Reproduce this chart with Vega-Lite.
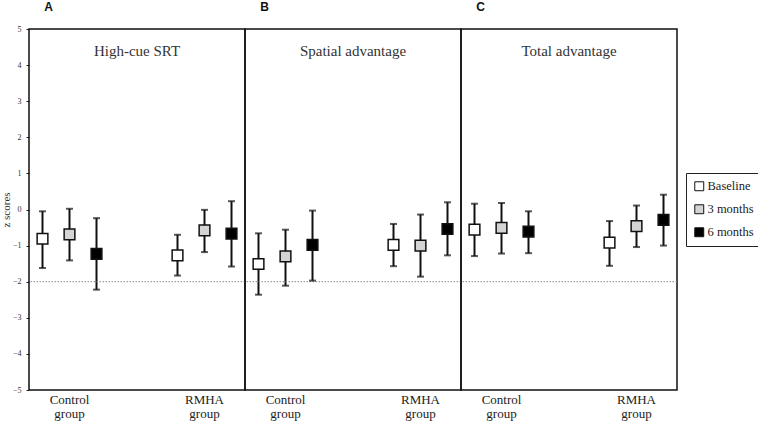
{
  "$schema": "https://vega.github.io/schema/vega-lite/v6.json",
  "background": "white",
  "padding": {"left": 0, "top": 0, "right": 0, "bottom": 0},
  "bounds": "flush",
  "data": {"values": [
    {"panel": "A", "title": "High-cue SRT", "letter": "A"},
    {"panel": "B", "title": "Spatial advantage", "letter": "B"},
    {"panel": "C", "title": "Total advantage", "letter": "C"},
    {"panel": "A", "group": "Control group", "time": "Baseline", "z": -0.81, "lo": -1.62, "hi": -0.05},
    {"panel": "A", "group": "Control group", "time": "3 months", "z": -0.69, "lo": -1.41, "hi": 0.02},
    {"panel": "A", "group": "Control group", "time": "6 months", "z": -1.23, "lo": -2.22, "hi": -0.24},
    {"panel": "A", "group": "RMHA group", "time": "Baseline", "z": -1.27, "lo": -1.83, "hi": -0.70},
    {"panel": "A", "group": "RMHA group", "time": "3 months", "z": -0.58, "lo": -1.18, "hi": -0.01},
    {"panel": "A", "group": "RMHA group", "time": "6 months", "z": -0.67, "lo": -1.58, "hi": 0.23},
    {"panel": "B", "group": "Control group", "time": "Baseline", "z": -1.51, "lo": -2.36, "hi": -0.66},
    {"panel": "B", "group": "Control group", "time": "3 months", "z": -1.30, "lo": -2.11, "hi": -0.56},
    {"panel": "B", "group": "Control group", "time": "6 months", "z": -0.98, "lo": -1.97, "hi": -0.03},
    {"panel": "B", "group": "RMHA group", "time": "Baseline", "z": -0.98, "lo": -1.57, "hi": -0.40},
    {"panel": "B", "group": "RMHA group", "time": "3 months", "z": -1.00, "lo": -1.86, "hi": -0.14},
    {"panel": "B", "group": "RMHA group", "time": "6 months", "z": -0.54, "lo": -1.27, "hi": 0.20},
    {"panel": "C", "group": "Control group", "time": "Baseline", "z": -0.56, "lo": -1.29, "hi": 0.16},
    {"panel": "C", "group": "Control group", "time": "3 months", "z": -0.51, "lo": -1.22, "hi": 0.18},
    {"panel": "C", "group": "Control group", "time": "6 months", "z": -0.61, "lo": -1.21, "hi": -0.05},
    {"panel": "C", "group": "RMHA group", "time": "Baseline", "z": -0.92, "lo": -1.56, "hi": -0.32},
    {"panel": "C", "group": "RMHA group", "time": "3 months", "z": -0.46, "lo": -1.04, "hi": 0.11},
    {"panel": "C", "group": "RMHA group", "time": "6 months", "z": -0.29, "lo": -1.00, "hi": 0.41}
  ]},
  "facet": {"column": {"field": "panel", "type": "nominal", "header": null, "sort": ["A", "B", "C"]}},
  "spacing": 0,
  "resolve": {"scale": {"x": "shared", "y": "shared"}},
  "spec": {
    "width": 216,
    "height": 361,
    "layer": [
      {
        "transform": [{"filter": "isValid(datum.group)"}],
        "mark": {"type": "rule", "color": "#111111", "strokeWidth": 2},
        "encoding": {
          "x": {"field": "group", "type": "nominal", "sort": ["Control group", "RMHA group"],
                "scale": {"domain": ["Control group", "RMHA group"], "paddingInner": 0.4, "paddingOuter": 0},
                "axis": {"title": null, "ticks": false, "domain": false, "labelAngle": 0, "labelFont": "Liberation Serif", "labelFontSize": 13, "labelColor": "#222222", "labelPadding": 3, "labelLineHeight": 14.5, "labelExpr": "split(datum.label, ' ')"}},
          "xOffset": {"field": "time", "type": "nominal", "sort": ["Baseline", "3 months", "6 months"], "scale": {"domain": ["Baseline", "3 months", "6 months"], "paddingInner": 0, "paddingOuter": 0}},
          "y": {"field": "lo", "type": "quantitative", "scale": {"domain": [-5, 5], "nice": false, "zero": false},
                "axis": {"title": "z scores", "values": [-5, -4, -3, -2, -1, 0, 1, 2, 3, 4, 5], "tickCount": 11, "labelOverlap": false, "labelFlush": false, "grid": false, "domain": false, "tickSize": 3, "tickColor": "#222222", "labelFont": "Liberation Serif", "labelFontSize": 8, "labelColor": "#333333", "labelPadding": 5, "titleFont": "Liberation Serif", "titleFontSize": 11, "titleFontWeight": "normal", "titleColor": "#333333", "titlePadding": 1}},
          "y2": {"field": "hi"}
        }
      },
      {
        "transform": [{"filter": "isValid(datum.title)"}],
        "mark": {"type": "rule", "color": "#888888", "strokeWidth": 1, "strokeDash": [1.5, 1.5]},
        "encoding": {"y": {"datum": -2, "type": "quantitative"}}
      },
      {
        "transform": [{"filter": "isValid(datum.group)"}, {"fold": ["lo", "hi"], "as": ["end", "val"]}],
        "mark": {"type": "tick", "color": "#111111", "thickness": 2, "size": 7, "orient": "horizontal"},
        "encoding": {
          "x": {"field": "group", "type": "nominal"},
          "xOffset": {"field": "time", "type": "nominal"},
          "y": {"field": "val", "type": "quantitative"}
        }
      },
      {
        "transform": [{"filter": "isValid(datum.group)"}],
        "mark": {"type": "point", "shape": "square", "filled": true, "size": 115, "stroke": "#111111", "strokeWidth": 1.5, "opacity": 1},
        "encoding": {
          "x": {"field": "group", "type": "nominal"},
          "xOffset": {"field": "time", "type": "nominal"},
          "y": {"field": "z", "type": "quantitative"},
          "fill": {"field": "time", "type": "nominal", "sort": ["Baseline", "3 months", "6 months"],
                   "scale": {"domain": ["Baseline", "3 months", "6 months"], "range": ["#ffffff", "#d4d4d4", "#000000"]},
                   "legend": {"title": null, "orient": "none", "legendX": 657, "legendY": 144, "symbolType": "square", "symbolSize": 80, "symbolStrokeColor": "#111111", "symbolStrokeWidth": 1, "labelFont": "Liberation Serif", "labelFontSize": 12.5, "labelColor": "#222222", "rowPadding": 9, "padding": 7, "strokeColor": "#222222", "labelOffset": 2}}
        }
      },
      {
        "transform": [{"filter": "isValid(datum.title)"}],
        "mark": {"type": "text", "font": "Liberation Serif", "fontSize": 15, "color": "#333333", "baseline": "middle"},
        "encoding": {"y": {"datum": 4.4, "type": "quantitative"}, "text": {"field": "title"}}
      },
      {
        "transform": [{"filter": "isValid(datum.title)"}],
        "mark": {"type": "text", "font": "Liberation Sans", "fontSize": 12, "fontWeight": "bold", "color": "#111111", "baseline": "middle", "dx": 6, "dy": -22},
        "encoding": {
          "x": {"datum": "Control group"},
          "xOffset": {"datum": "Baseline"},
          "y": {"datum": 5, "type": "quantitative"},
          "text": {"field": "letter"}
        }
      }
    ]
  },
  "config": {
    "view": {"stroke": "#111111", "strokeWidth": 1.5},
    "axis": {"labelOverlap": false},
    "axisY": {"labelOverlap": false},
    "font": "Liberation Serif"
  }
}
